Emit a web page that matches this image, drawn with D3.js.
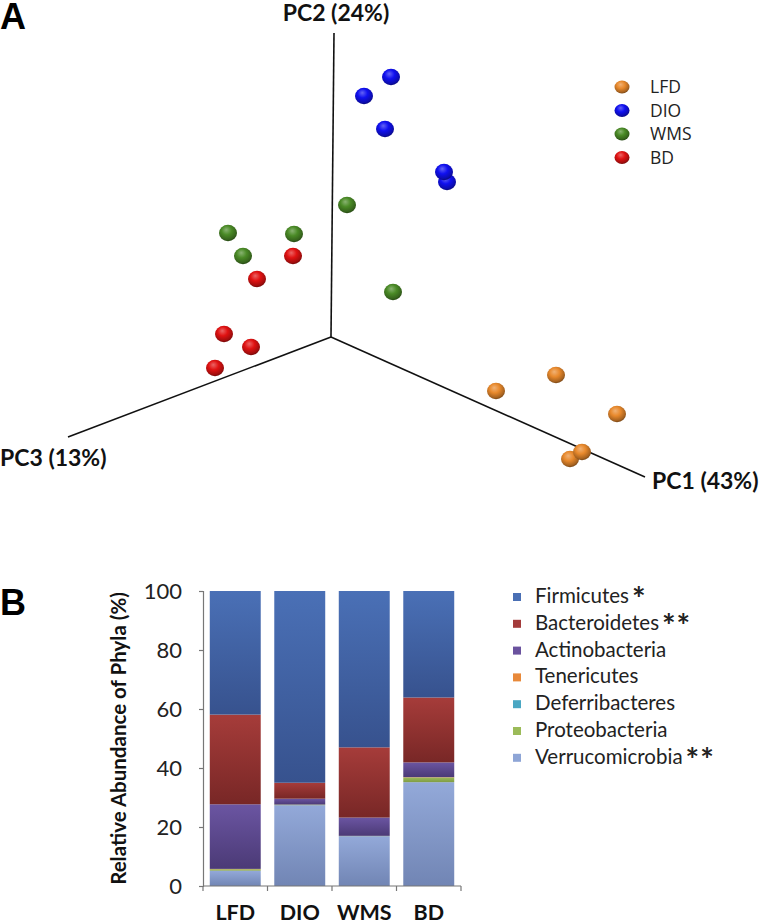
<!DOCTYPE html>
<html>
<head>
<meta charset="utf-8">
<script src="https://cdn.jsdelivr.net/npm/d3@7"></script>
<style>
  html, body { margin: 0; padding: 0; background: #fff; }
  svg { display: block; }
</style>
</head>
<body>
<svg id="chart" width="760" height="924"></svg>
<script>
// ---------------- Panel A data (projected PCoA scores) ----------------
const groups = ["LFD", "DIO", "WMS", "BD"];
const groupColors = ["#e8892c", "#1010f0", "#4a8a26", "#e01212"];
const scoresLFD = [[2.25, -0.38], [1.65, -0.54], [2.86, -0.77], [2.39, -1.22], [2.51, -1.15]];
const scoresDIO = [[0.60, 2.60], [0.33, 2.41], [0.54, 2.08], [1.16, 1.55], [1.13, 1.65]];
const scoresWMS = [[0.16, 1.32], [-1.03, 1.04], [-0.37, 1.03], [-0.88, 0.81], [0.62, 0.45]];
const scoresBD  = [[-0.38, 0.81], [-0.74, 0.58], [-1.07, 0.03], [-0.80, -0.10], [-1.16, -0.31]];
const axisNames = ["PC1 (43%)", "PC2 (24%)", "PC3 (13%)"];
const axisEnds = [[3.14, -1.40], [0.03, 3.04], [-2.63, -1.00]];

// ---------------- Panel B data ----------------
const categories = ["LFD", "DIO", "WMS", "BD"];
const phyla = ["Firmicutes", "Bacteroidetes", "Actinobacteria", "Tenericutes",
               "Deferribacteres", "Proteobacteria", "Verrucomicrobia"];
const phylaStars = ["*", "**", "", "", "", "", "**"];
const firmicutes      = [41.9, 65.0, 53.0, 36.1];
const bacteroidetes   = [30.4, 5.4, 23.8, 22.0];
const actinobacteria  = [21.9, 2.0, 6.2, 5.0];
const tenericutes     = [0.1, 0.0, 0.0, 0.1];
const deferribacteres = [0.0, 0.0, 0.0, 0.0];
const proteobacteria  = [0.5, 0.2, 0.1, 1.6];
const verrucomicrobia = [5.2, 27.4, 16.9, 35.2];
const yTicks = [0, 20, 40, 60, 80, 100];
const yTitle = "Relative Abundance of Phyla (%)";

const phylaValues = [firmicutes, bacteroidetes, actinobacteria, tenericutes,
                     deferribacteres, proteobacteria, verrucomicrobia];
const phylaTop = ["#4a70b6", "#a63c3a", "#6b55a2", "#f79646", "#4bacc6", "#9bbb59", "#93a9d9"];
const phylaBot = ["#37528e", "#782726", "#4b3a76", "#d97a30", "#3a8ea6", "#7f9c45", "#7185b4"];
const phylaLegend = ["#4a6fb4", "#a33b3b", "#6a529e", "#e8893a", "#4aa7c3", "#9bbb59", "#8ea5d6"];

const svg = d3.select("#chart");
const defs = svg.append("defs");

// ================= Panel A =================
const sx = d3.scaleLinear().domain([-3, 3]).range([31, 631]);
const sy = d3.scaleLinear().domain([-3, 3]).range([637, 37]);

svg.append("text").attr("x", 0).attr("y", 29)
  .attr("font-family", "Liberation Sans, Arial, sans-serif").attr("font-weight", "bold")
  .attr("font-size", 36).text("A");

// sphere gradients
groupColors.forEach((c, i) => {
  const g = defs.append("radialGradient").attr("id", "sph" + i)
    .attr("cx", "45%").attr("cy", "38%").attr("r", "62%").attr("fx", "40%").attr("fy", "30%");
  const base = d3.color(c);
  g.append("stop").attr("offset", "0%").attr("stop-color", d3.interpolateRgb(c, "#fff")(0.35));
  g.append("stop").attr("offset", "45%").attr("stop-color", c);
  g.append("stop").attr("offset", "85%").attr("stop-color", base.darker(0.9));
  g.append("stop").attr("offset", "100%").attr("stop-color", base.darker(1.8));
});

// axes
const origin = [0, 0];
svg.append("g").selectAll("line").data(axisEnds).join("line")
  .attr("x1", sx(origin[0])).attr("y1", sy(origin[1]))
  .attr("x2", d => sx(d[0])).attr("y2", d => sy(d[1]))
  .attr("stroke", "#111").attr("stroke-width", 1.6);

const axisLabelFont = "Lato, 'Open Sans', sans-serif";
const axLab = svg.append("g").attr("font-family", axisLabelFont).attr("font-weight", "bold")
  .attr("font-size", 23).attr("fill", "#111");
axLab.append("text").attr("x", 336).attr("y", 21).attr("text-anchor", "middle").text(axisNames[1]);
axLab.append("text").attr("x", 0).attr("y", 466).text(axisNames[2]);
axLab.append("text").attr("x", 652).attr("y", 489).text(axisNames[0]);

// points
const allScores = [scoresLFD, scoresDIO, scoresWMS, scoresBD];
const pts = [];
allScores.forEach((arr, gi) => arr.forEach(p => pts.push({g: gi, x: p[0], y: p[1]})));
svg.append("g").selectAll("ellipse").data(pts).join("ellipse")
  .attr("cx", d => sx(d.x)).attr("cy", d => sy(d.y))
  .attr("rx", 9).attr("ry", 8.2)
  .attr("fill", d => `url(#sph${d.g})`);

// legend A
const legA = svg.append("g").attr("font-family", "'Open Sans', sans-serif").attr("font-size", 17.5).attr("fill", "#222");
groups.forEach((gname, i) => {
  const yy = 87 + i * 23.5;
  legA.append("ellipse").attr("cx", 622).attr("cy", yy).attr("rx", 7.5).attr("ry", 6.5)
    .attr("fill", `url(#sph${i})`);
  legA.append("text").attr("x", 650).attr("y", yy + 6).text(gname);
});

// ================= Panel B =================
svg.append("text").attr("x", 0).attr("y", 615)
  .attr("font-family", "Liberation Sans, Arial, sans-serif").attr("font-weight", "bold")
  .attr("font-size", 36).text("B");

phyla.forEach((p, i) => {
  const g = defs.append("linearGradient").attr("id", "bar" + i)
    .attr("x1", 0).attr("y1", 0).attr("x2", 0).attr("y2", 1);
  g.append("stop").attr("offset", "0%").attr("stop-color", phylaTop[i]);
  g.append("stop").attr("offset", "100%").attr("stop-color", phylaBot[i]);
});

const xb = d3.scaleBand().domain(categories).range([203, 461]).paddingInner(0.21).paddingOuter(0.105);
const yb = d3.scaleLinear().domain([0, 100]).range([886, 591]);

// stack data
const rows = categories.map((c, ci) => {
  const o = {cat: c};
  phyla.forEach((p, pi) => o[p] = phylaValues[pi][ci]);
  return o;
});
const stackOrder = phyla.slice().reverse();
const stacked = d3.stack().keys(stackOrder)(rows);

svg.append("g").selectAll("g").data(stacked).join("g")
  .attr("fill", d => `url(#bar${phyla.indexOf(d.key)})`)
  .selectAll("rect").data(d => d).join("rect")
  .attr("x", d => xb(d.data.cat))
  .attr("width", xb.bandwidth())
  .attr("y", d => yb(d[1]))
  .attr("height", d => Math.max(0, yb(d[0]) - yb(d[1])));

// y axis
const yAxis = d3.axisLeft(yb).tickValues(yTicks).tickSize(4).tickPadding(17).tickFormat(d3.format("d"));
const gy = svg.append("g").attr("transform", "translate(203,0)").call(yAxis);
gy.select(".domain").attr("stroke", "#777").attr("stroke-width", 1.2);
gy.selectAll(".tick line").attr("stroke", "#777").attr("stroke-width", 1.2);
gy.selectAll(".tick text").attr("font-family", "Lato, sans-serif").attr("font-size", 22).attr("fill", "#222");

// x axis with boundary ticks
const gx = svg.append("g");
gx.append("line").attr("x1", 203).attr("x2", 461).attr("y1", yb(0)).attr("y2", yb(0))
  .attr("stroke", "#777").attr("stroke-width", 1.2);
const bounds = [xb.range()[0]].concat(categories.map(c => xb(c) + xb.bandwidth() + xb.step() * xb.paddingInner() / 2));
bounds[bounds.length - 1] = xb.range()[1];
gx.selectAll("line.tk").data(bounds).join("line").attr("class", "tk")
  .attr("x1", d => d).attr("x2", d => d).attr("y1", yb(0)).attr("y2", yb(0) + 5)
  .attr("stroke", "#777").attr("stroke-width", 1.2);
gx.selectAll("text").data(categories).join("text")
  .attr("x", d => xb(d) + xb.bandwidth() / 2).attr("y", 920)
  .attr("text-anchor", "middle")
  .attr("font-family", "Lato, sans-serif").attr("font-weight", "bold").attr("font-size", 21.5)
  .attr("fill", "#111").text(d => d);

// y title
svg.append("text").attr("transform", `translate(126,${yb(50)}) rotate(-90)`)
  .attr("text-anchor", "middle").attr("font-family", "Lato, sans-serif")
  .attr("font-weight", "bold").attr("font-size", 20.5).attr("fill", "#111").text(yTitle);

// legend B
const legB = svg.append("g").attr("font-family", "Lato, sans-serif").attr("font-size", 20.5).attr("fill", "#222");
phyla.forEach((p, i) => {
  const base = 603 + i * 26.8;
  legB.append("rect").attr("x", 513).attr("y", base - 10).attr("width", 8).attr("height", 8)
    .attr("fill", phylaLegend[i]);
  const t = legB.append("text").attr("x", 535).attr("y", base);
  t.append("tspan").text(p);
  if (phylaStars[i]) {
    t.append("tspan").attr("dx", 3).attr("dy", 8).attr("font-size", 32).attr("font-weight", "bold")
      .attr("letter-spacing", 1).text(phylaStars[i]);
  }
});
</script>
</body>
</html>
